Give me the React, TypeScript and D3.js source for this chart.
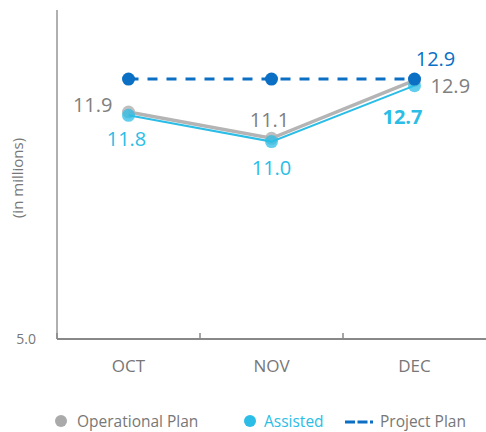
import React from "react";
import * as d3 from "d3";

const categories = ["OCT", "NOV", "DEC"];
const operationalPlan = [11.9, 11.1, 12.86];
const assisted = [11.8, 11.0, 12.7];
const projectPlan = [12.9, 12.9, 12.9];
const yTicks = [5.0];

const W = 486, H = 432;
const FONT = "'Open Sans', 'Noto Sans', sans-serif";
const GREY = "#b4b4b4";
const CYAN = "#2bbde6";
const BLUE = "#0b6fc4";
const TEXT = "#777";

export default function App() {
  const x = d3.scaleBand<string>().domain(categories).range([57, 486]);
  const y = d3.scaleLinear().domain([5, 15]).range([339, 10]);
  const cx = (c: string) => (x(c) as number) + x.bandwidth() / 2;
  const line = d3.line<number>().x((_, i) => cx(categories[i])).y((v) => y(v));

  const opLabel = [
    { dx: -16, dy: 0, anchor: "end" },
    { dx: -2, dy: -11, anchor: "middle" },
    { dx: 16, dy: 13, anchor: "start" },
  ];
  const asLabel = [
    { dx: -2, dy: 31, anchor: "middle", w: 400 },
    { dx: 0, dy: 33, anchor: "middle", w: 400 },
    { dx: -12, dy: 38, anchor: "middle", w: 700 },
  ];

  return (
    <svg width={W} height={H} style={{ position: "absolute", left: 0, top: 0, fontFamily: FONT }}>
      {/* axes */}
      <line x1={57} x2={57} y1={y(15)} y2={y(5)} stroke="#b0b0b0" strokeWidth={2} />
      <line x1={57} x2={486} y1={y(5)} y2={y(5)} stroke="#888" strokeWidth={2} />
      {categories.map((c) => (
        <line key={c} x1={x(c) as number} x2={x(c) as number} y1={y(5) - 6} y2={y(5)} stroke="#888" strokeWidth={1.5} />
      ))}
      {yTicks.map((t) => (
        <text key={t} x={36} y={y(t) + 5} fontSize={14} fill={TEXT} textAnchor="end">{t.toFixed(1)}</text>
      ))}
      {categories.map((c) => (
        <text key={c} x={cx(c)} y={372} fontSize={17} fill={TEXT} textAnchor="middle">{c}</text>
      ))}
      <text transform={`translate(23,178) rotate(-90)`} fontSize={15} fill={TEXT} textAnchor="middle">(in millions)</text>

      {/* project plan */}
      <path d={line(projectPlan) || ""} fill="none" stroke={BLUE} strokeWidth={3} strokeDasharray="10 9" />
      {/* operational plan */}
      <path d={line(operationalPlan) || ""} fill="none" stroke={GREY} strokeWidth={3.5} />
      {operationalPlan.map((v, i) => (
        <circle key={i} cx={cx(categories[i])} cy={y(v)} r={6.5} fill={GREY} opacity={0.85} />
      ))}
      {/* assisted */}
      <path d={line(assisted) || ""} fill="none" stroke={CYAN} strokeWidth={2} />
      {assisted.map((v, i) => (
        <circle key={i} cx={cx(categories[i])} cy={y(v)} r={6.5} fill={CYAN} opacity={0.75} />
      ))}
      {projectPlan.map((v, i) => (
        <circle key={i} cx={cx(categories[i])} cy={y(v)} r={6.5} fill={BLUE} />
      ))}

      {/* labels */}
      {operationalPlan.map((v, i) => (
        <text key={i} x={cx(categories[i]) + opLabel[i].dx} y={y(v) + opLabel[i].dy} fontSize={20} fill="#808080" textAnchor={opLabel[i].anchor}>{v.toFixed(1)}</text>
      ))}
      {assisted.map((v, i) => (
        <text key={i} x={cx(categories[i]) + asLabel[i].dx} y={y(v) + asLabel[i].dy} fontSize={20} fontWeight={asLabel[i].w} fill={CYAN} textAnchor="middle">{v.toFixed(1)}</text>
      ))}
      <text x={cx("DEC") + 21} y={y(projectPlan[2]) - 13} fontSize={20} fill={BLUE} textAnchor="middle">{projectPlan[2].toFixed(1)}</text>

      {/* legend */}
      <circle cx={61} cy={421} r={6} fill="#aaa" />
      <text x={77} y={427} fontSize={15.5} fill={TEXT}>Operational Plan</text>
      <circle cx={250} cy={421} r={6} fill={CYAN} />
      <text x={264} y={427} fontSize={15.5} fill={CYAN}>Assisted</text>
      <line x1={345} x2={373} y1={422} y2={422} stroke={BLUE} strokeWidth={3} strokeDasharray="10 2.5 10 2.5 3 10" />
      <text x={380} y={427} fontSize={15.5} fill={TEXT}>Project Plan</text>
    </svg>
  );
}
